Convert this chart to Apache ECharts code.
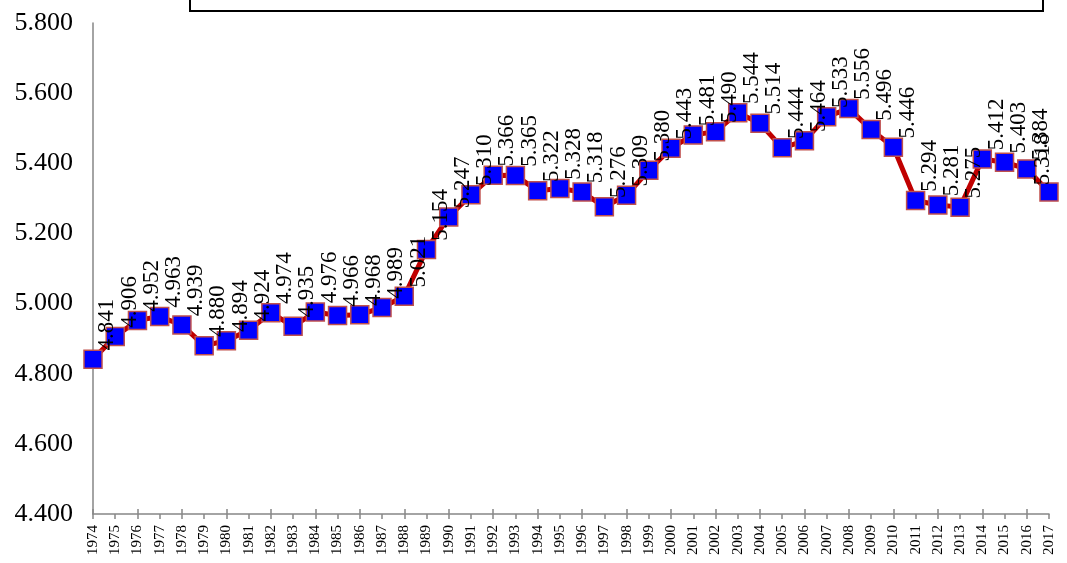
<!DOCTYPE html>
<html>
<head>
<meta charset="utf-8">
<script src="https://cdn.jsdelivr.net/npm/echarts@6/dist/echarts.min.js"></script>
<style>html,body{margin:0;padding:0;background:#fff;}#c{width:1067px;height:563px;}</style>
</head>
<body>
<div id="c"></div>
<script>
const years = ['1974','1975','1976','1977','1978','1979','1980','1981','1982','1983','1984','1985','1986','1987','1988','1989','1990','1991','1992','1993','1994','1995','1996','1997','1998','1999','2000','2001','2002','2003','2004','2005','2006','2007','2008','2009','2010','2011','2012','2013','2014','2015','2016','2017'];
const values = [4.841,4.906,4.952,4.963,4.939,4.880,4.894,4.924,4.974,4.935,4.976,4.966,4.968,4.989,5.021,5.154,5.247,5.310,5.366,5.365,5.322,5.328,5.318,5.276,5.309,5.380,5.443,5.481,5.490,5.544,5.514,5.444,5.464,5.533,5.556,5.496,5.446,5.294,5.281,5.275,5.412,5.403,5.384,5.318];
const yMin = 4.4, yMax = 5.8, yStep = 0.2;

const chart = echarts.init(document.getElementById('c'));
const font = 'Liberation Serif';
const seriesData = values.map((v, i) => i === values.length - 1
  ? {value: v, label: {position: [4, 3]}}
  : v);
chart.setOption({
  animation: false,
  backgroundColor: '#fff',
  grid: {left: 93, right: 18, top: 23, bottom: 49},
  graphic: [{
    type: 'rect', z: 100,
    shape: {x: 190, y: -20, width: 853, height: 31},
    style: {fill: '#fff', stroke: '#000', lineWidth: 2}
  }],
  xAxis: [{
    type: 'category', data: years, boundaryGap: false,
    axisLine: {lineStyle: {color: '#868686', width: 1.5}},
    axisTick: {show: true, length: 5, alignWithLabel: true, lineStyle: {color: '#868686', width: 1.5}},
    axisLabel: {rotate: 90, interval: 0, fontFamily: font, fontSize: 15, color: '#000', margin: 11}
  }, {
    type: 'category', data: years, boundaryGap: false, position: 'bottom',
    axisLine: {show: false},
    axisTick: {show: true, inside: true, length: 5, lineStyle: {color: '#868686', width: 1.5}},
    axisLabel: {show: false}
  }],
  yAxis: {
    type: 'value', min: yMin, max: yMax, interval: yStep,
    splitLine: {show: false},
    axisLine: {show: true, lineStyle: {color: '#868686', width: 1.5}},
    axisTick: {show: false},
    axisLabel: {fontFamily: font, fontSize: 26, color: '#000', margin: 20,
      formatter: v => v.toFixed(3)}
  },
  series: [{
    type: 'line', data: seriesData, xAxisIndex: 0,
    lineStyle: {color: '#C00000', width: 5},
    symbol: 'rect', symbolSize: 18,
    itemStyle: {color: '#0000FF', borderColor: '#C0504D', borderWidth: 1.5},
    label: {
      show: true, rotate: 90, position: [24, 1], align: 'left', verticalAlign: 'middle',
      fontFamily: font, fontSize: 23, color: '#000',
      formatter: p => p.value.toFixed(3)
    }
  }]
});
</script>
</body>
</html>
